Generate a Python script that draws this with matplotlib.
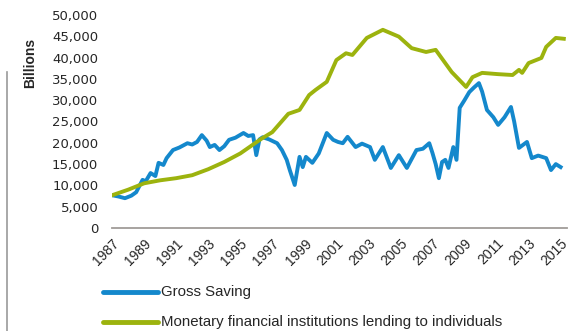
import matplotlib
matplotlib.use("Agg")
import matplotlib.pyplot as plt
from matplotlib.lines import Line2D

plt.rcParams['font.family'] = ['Liberation Sans', 'DejaVu Sans']

# Gross saving, billions (fractional year, value)
saving_years = [1987.0, 1987.4, 1987.8, 1988.2, 1988.5, 1988.9, 1989.1, 1989.4, 1989.7, 1989.9,
                1990.2, 1990.4, 1990.8, 1991.2, 1991.7, 1992.0, 1992.3, 1992.6, 1992.9, 1993.1,
                1993.4, 1993.7, 1994.0, 1994.3, 1994.7, 1995.2, 1995.5, 1995.8, 1996.0, 1996.2,
                1996.4, 1996.8, 1997.3, 1997.6, 1997.9, 1998.1, 1998.4, 1998.7, 1998.9, 1999.1,
                1999.5, 1999.9, 2000.4, 2000.8, 2001.1, 2001.4, 2001.7, 2002.2, 2002.6, 2003.1,
                2003.4, 2003.9, 2004.4, 2004.9, 2005.4, 2006.0, 2006.4, 2006.8, 2007.0, 2007.2,
                2007.4, 2007.6, 2007.8, 2008.0, 2008.3, 2008.5, 2008.7, 2009.0, 2009.3, 2009.6,
                2009.9, 2010.1, 2010.4, 2010.8, 2011.1, 2011.5, 2011.9, 2012.1, 2012.4, 2012.9,
                2013.2, 2013.6, 2014.1, 2014.4, 2014.7, 2015.0]
saving = [7700, 7400, 7000, 7600, 8400, 11300, 11000, 12900, 12200, 15300,
          14800, 16400, 18300, 18900, 19900, 19600, 20200, 21800, 20500, 19000,
          19500, 18300, 19200, 20700, 21200, 22300, 21600, 21800, 17100, 20800,
          21300, 20800, 19900, 18300, 16000, 13500, 10100, 16700, 14300, 16700,
          15300, 17500, 22300, 20700, 20200, 19900, 21400, 19000, 19800, 19000,
          16000, 19000, 14100, 17100, 14100, 18300, 18600, 19900, 17600, 15000,
          11700, 15500, 16000, 14100, 19000, 16000, 28200, 30000, 31900, 33000,
          34000, 32000, 27700, 26000, 24200, 26000, 28400, 25000, 18800, 20200,
          16400, 17000, 16400, 13600, 15000, 14300]

# Monetary financial institutions lending to individuals, billions
lending_years = [1987.0, 1988.0, 1989.0, 1990.0, 1991.0, 1992.0, 1992.5, 1993.0, 1994.0, 1995.0,
                 1996.3, 1997.0, 1998.0, 1998.7, 1999.3, 1999.7, 2000.4, 2001.0, 2001.6, 2002.0,
                 2002.9, 2003.9, 2004.9, 2005.7, 2006.6, 2007.2, 2008.2, 2009.1, 2009.5, 2010.1,
                 2011.1, 2012.0, 2012.4, 2012.6, 2013.0, 2013.8, 2014.1, 2014.7, 2015.2]
lending = [7700, 9000, 10500, 11200, 11700, 12400, 13100, 13800, 15500, 17500,
           20900, 22500, 26800, 27700, 31200, 32400, 34300, 39400, 41000, 40600,
           44600, 46500, 44900, 42200, 41300, 41800, 36600, 33100, 35400, 36400,
           36100, 35900, 37100, 36400, 38700, 39900, 42500, 44600, 44400]

year_ticks = list(range(1987, 2016, 2))
value_ticks = list(range(0, 50001, 5000))
blue = '#1488cc'
green = '#9cb30e'
text_col = '#262626'

fig = plt.figure(figsize=(5.78, 3.31), dpi=100)
ax = fig.add_axes([0.194, 0.311, 0.787, 0.644])

ax.plot(saving_years, saving, color=blue, lw=2.8, solid_joinstyle='round', zorder=2)
ax.plot(lending_years, lending, color=green, lw=2.8, solid_joinstyle='round', zorder=3)

ax.set_xlim(1987, 2015.4)
ax.set_ylim(0, 50000)
ax.set_yticks(value_ticks)
ax.set_yticklabels([f'{v:,}' for v in value_ticks], family='DejaVu Sans', fontsize=9.5)
ax.set_xticks(year_ticks)
ax.set_xticklabels([str(y) for y in year_ticks], rotation=45, ha='right',
                   rotation_mode='anchor', fontsize=10)
ax.tick_params(length=0, colors=text_col)
ax.tick_params(axis='y', pad=10)
ax.tick_params(axis='x', pad=6)

for side in ['top', 'right', 'left']:
    ax.spines[side].set_visible(False)
ax.spines['bottom'].set_color('#a09c98')
ax.spines['bottom'].set_linewidth(1.3)

fig.text(0.052, 0.81, 'Billions', rotation=90, fontsize=10, fontweight='bold',
         color=text_col, ha='center', va='center')

# thin rule on the left edge
fig.add_artist(Line2D([0.012, 0.012], [0.0, 0.782], color='#9a9a9a', lw=1.2))

# legend drawn by hand under the axis
for y, col, lab in [(0.118, blue, 'Gross Saving'),
                    (0.027, green, 'Monetary financial institutions lending to individuals')]:
    fig.add_artist(Line2D([0.178, 0.274], [y, y], color=col, lw=3.5, solid_capstyle='round'))
    fig.text(0.279, y, lab, fontsize=10.8, color=text_col, va='center', ha='left')

fig.savefig('out.png', dpi=100)
